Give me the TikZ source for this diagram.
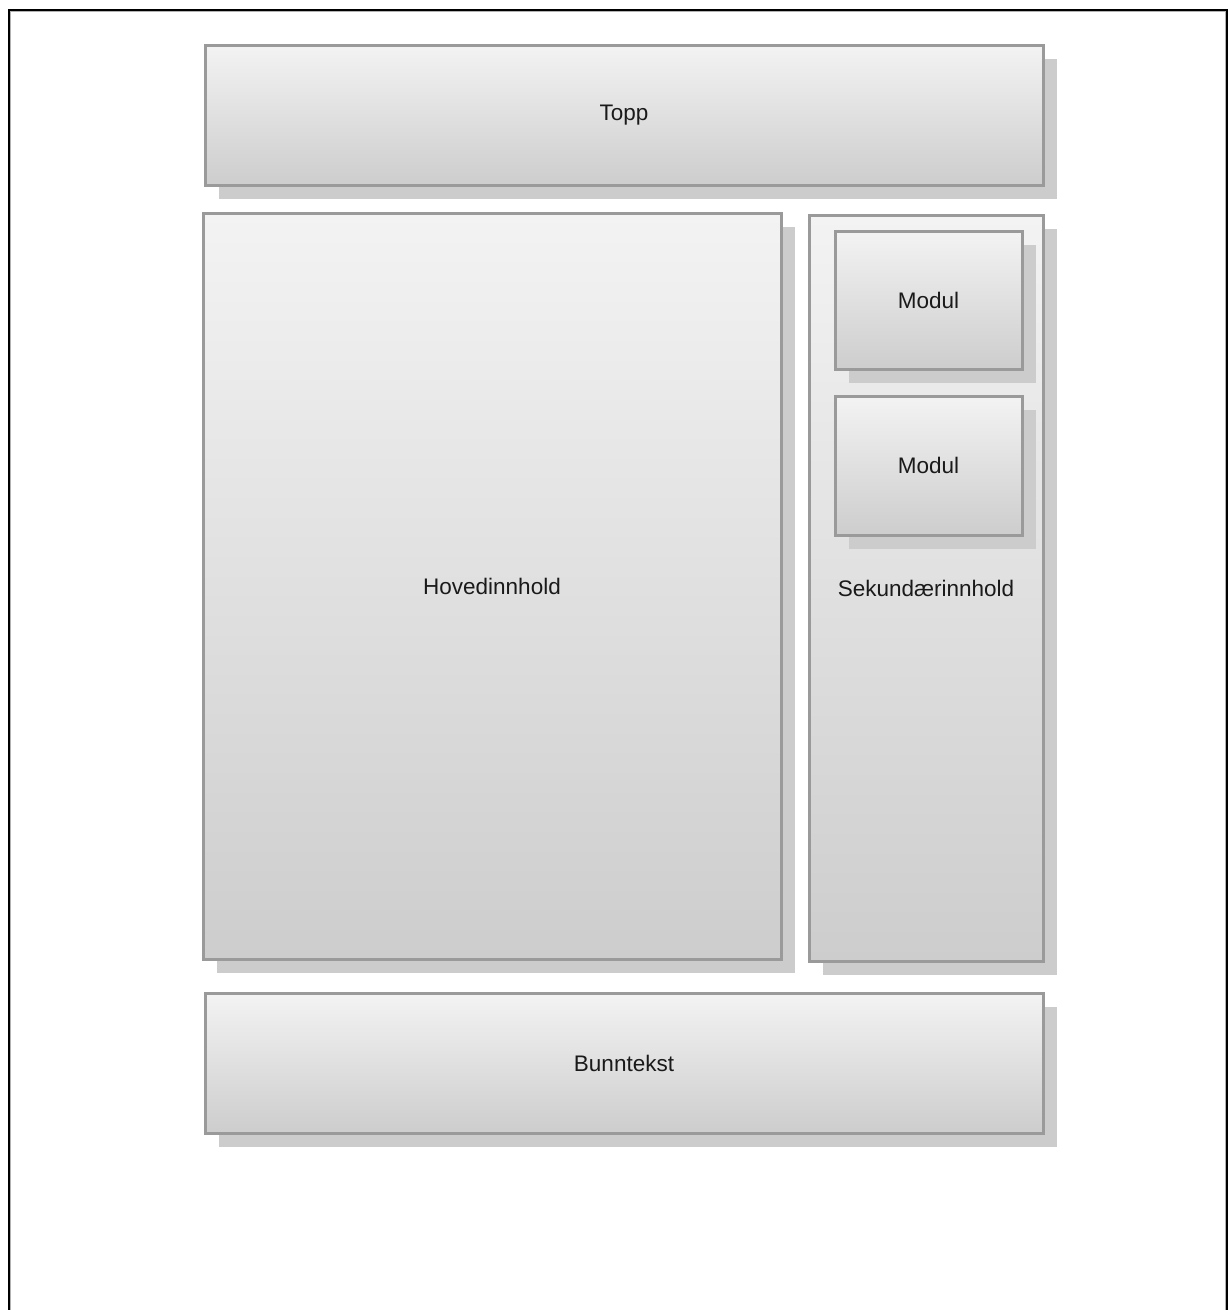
\documentclass[tikz,border=0pt]{standalone}
\usepackage{fontspec}
\setmainfont{Liberation Sans}
\usetikzlibrary{shadows}
\definecolor{boxedge}{HTML}{9A9A9A}
\definecolor{boxtop}{HTML}{F3F3F3}
\definecolor{boxbottom}{HTML}{CDCDCD}
\definecolor{boxshadow}{HTML}{CCCCCC}
\definecolor{labeltext}{HTML}{1A1A1A}
\tikzset{
  panel/.style={rectangle, draw=boxedge, line width=3pt, outer sep=0pt,
    top color=boxtop, bottom color=boxbottom,
    text=labeltext, font=\fontsize{22.5}{26}\selectfont,
    drop shadow={shadow xshift=14pt, shadow yshift=-14pt,
      fill=boxshadow, opacity=1}},
  frameline/.style={line width=2pt, black}
}
\begin{document}
\begin{tikzpicture}[x=1pt, y=-1pt]
  \useasboundingbox (0,0) rectangle (1229,1310);
  \fill[white] (0,0) rectangle (1229,1310);
  % page frame, open at the bottom
  \draw[gray!60, line width=1pt] (10.5,1310) -- (10.5,11.5) -- (1225,11.5) -- (1225,1310);
  \draw[frameline] (8.5,1310) -- (8.5,9.5) -- (1227,9.5) -- (1227,1310);

  % header
  \node[panel, minimum width=838pt, minimum height=140pt] (topp) at (624,115) {Topp};
  % main content
  \node[panel, minimum width=578pt, minimum height=746pt] (main) at (492,586) {Hovedinnhold};
  % sidebar with modules
  \node[panel, minimum width=234pt, minimum height=746pt] (side) at (926,588) {Sekundærinnhold};
  \node[panel, minimum width=187pt, minimum height=138pt] (mod1) at (928.5,300) {Modul};
  \node[panel, minimum width=187pt, minimum height=139pt] (mod2) at (928.5,465.5) {Modul};
  % footer
  \node[panel, minimum width=838pt, minimum height=140pt] (foot) at (624,1063) {Bunntekst};
\end{tikzpicture}
\end{document}
